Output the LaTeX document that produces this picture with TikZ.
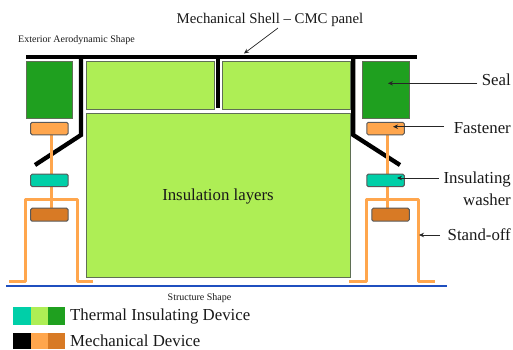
\documentclass[tikz,border=0pt]{standalone}
\usepackage{fontspec}
\setmainfont{Liberation Serif}
\definecolor{dgreen}{HTML}{1FA01F}
\definecolor{lgreen}{HTML}{AEEE55}
\definecolor{orng}{HTML}{FFA64D}
\definecolor{teal2}{HTML}{00CFA8}
\definecolor{brwn}{HTML}{D87A25}
\definecolor{blu}{HTML}{1F4FBF}
\definecolor{edge}{HTML}{5F6F55}
\usetikzlibrary{arrows.meta}
\tikzset{
  box/.style={draw=edge,line width=1pt,inner sep=0pt},
  pill/.style={draw=black!65,line width=1pt,rounded corners=1.5pt,inner sep=0pt,minimum width=37.5pt},
  shell/.style={draw=black,line width=4.3pt,line join=miter},
  ostrut/.style={draw=orng,line width=3pt,line join=round},
  oline/.style={draw=orng,line width=3pt},
  lead/.style={draw=black!85,line width=0.7pt,-{Stealth[length=5pt,width=4.5pt]}},
  lbl/.style={inner sep=0pt,font=\fontsize{16.8}{18}\selectfont,text=black!90},
  sm/.style={inner sep=0pt,font=\fontsize{10}{11}\selectfont,text=black!90}
}
\begin{document}
\begin{tikzpicture}[x=1pt,y=-1pt]
\useasboundingbox (0,0) rectangle (513,349);
% insulation
\filldraw[box,fill=lgreen] (86,61.5) rectangle (214,109);
\filldraw[box,fill=lgreen] (222.3,61.5) rectangle (350.7,109);
\filldraw[box,fill=lgreen] (86,113.3) rectangle (350.7,277.3);
% seals
\filldraw[box,fill=dgreen] (26,61.7) rectangle (72.7,118);
\filldraw[box,fill=dgreen] (362.3,61.7) rectangle (409.3,118);
% black shell
\coordinate (tl) at (26,57); \coordinate (tr) at (417,57);
\draw[shell] (tl) -- (tr);
\draw[shell] (218,57) -- (218,108);
\draw[shell] (81,57) -- (81,135) -- (35,165);
\draw[shell] (353.3,57) -- (353.3,135) -- (400,165);
% orange spindles
\coordinate (ltop) at (51,135); \coordinate (lbot) at (51,208);
\coordinate (rtop) at (387.7,135); \coordinate (rbot) at (387.7,208);
\draw[oline] (ltop) -- (lbot);
\draw[oline] (rtop) -- (rbot);
% devices
\node[pill,fill=orng,minimum height=12.5pt] (lf) at (49.4,128.5) {};
\node[pill,fill=orng,minimum height=12.5pt] (rf) at (385.5,128.5) {};
\node[pill,fill=teal2,minimum height=12.5pt] (lw) at (49.4,180.3) {};
\node[pill,fill=teal2,minimum height=12.5pt] (rw) at (385.5,180.3) {};
\node[pill,fill=brwn,minimum height=13pt] (lb) at (49.4,214.7) {};
\node[pill,fill=brwn,minimum height=13pt] (rb) at (390.5,214.7) {};
% stand-offs
\draw[ostrut] (9,281) -- (25.5,281) -- (25.5,199.3) -- (77,199.3) -- (77,281) -- (93,281);
\draw[ostrut] (349,281) -- (366.5,281) -- (366.5,199.3) -- (418.3,199.3) -- (418.3,281) -- (434.5,281);
\draw[blu,line width=2pt] (6,286) -- (447,286);
% labels
\node[lbl,anchor=center,font=\fontsize{14.8}{16}\selectfont] (mech) at (270,20) {Mechanical Shell – CMC panel};
\node[sm,anchor=west] (ext) at (18,40) {Exterior Aerodynamic Shape};
\node[lbl,anchor=east] (seal) at (511,80) {Seal};
\node[lbl,anchor=east] (fast) at (511,128) {Fastener};
\node[lbl,anchor=east] (ins) at (511,179) {Insulating};
\node[lbl,anchor=east] (wash) at (511,200) {washer};
\node[lbl,anchor=east] (stand) at (511,235) {Stand-off};
\node[lbl] (layers) at (218,196) {Insulation layers};
\node[sm] (struct) at (199.5,298) {Structure Shape};
% leaders
\coordinate (shellpt) at (244,53.5);
\coordinate (mechout) at (278,28);
\coordinate (sealin) at (388,83.3); \coordinate (sealout) at (477.3,83.3);
\coordinate (fastin) at (393,126.7); \coordinate (fastout) at (444,126.7);
\coordinate (washin) at (397,178); \coordinate (washout) at (439,178);
\coordinate (standin) at (419,235); \coordinate (standout) at (440,235);
\draw[lead] (mechout) -- (shellpt);
\draw[lead] (sealout) -- (sealin);
\draw[lead] (fastout) -- (fastin);
\draw[lead] (washout) -- (washin);
\draw[lead] (standout) -- (standin);
% legend
\fill[teal2] (13.3,307.3) rectangle (30.5,324.7);
\fill[lgreen] (30.5,307.3) rectangle (47.5,324.7);
\fill[dgreen] (47.5,307.3) rectangle (65,324.7);
\fill[black] (13.3,333) rectangle (30.5,349);
\fill[orng] (30.5,333) rectangle (47.5,349);
\fill[brwn] (47.5,333) rectangle (65,349);
\node[lbl,anchor=west] (tid) at (70,316) {Thermal Insulating Device};
\node[lbl,anchor=west] (md) at (70,341) {Mechanical Device};
\end{tikzpicture}
\end{document}
